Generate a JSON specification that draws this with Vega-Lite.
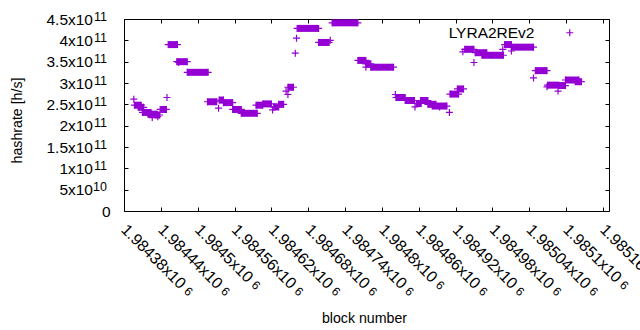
{
  "$schema": "https://vega.github.io/schema/vega-lite/v6.json",
  "width": 485,
  "height": 192,
  "autosize": {"type": "none"},
  "padding": {"left": 124, "top": 19, "right": 31, "bottom": 119},
  "background": "white",
  "config": {
    "view": {"stroke": "black", "strokeWidth": 1},
    "font": "Liberation Sans",
    "axis": {"grid": false, "domain": false, "tickColor": "black", "tickWidth": 1, "tickSize": -4, "labelColor": "black", "titleColor": "black", "labelFontSize": 15.5, "titleFontSize": 14.2, "titleFontWeight": "normal", "labelFlush": false, "labelOverlap": false, "labelBound": false}
  },
  "datasets": {
    "seg": [
      {"b0": 1984397, "b1": 1984408, "h": 2.48e11},
      {"b0": 1984403, "b1": 1984412, "h": 2.43e11},
      {"b0": 1984410, "b1": 1984424, "h": 2.31e11},
      {"b0": 1984419, "b1": 1984434, "h": 2.27e11},
      {"b0": 1984431, "b1": 1984438, "h": 2.25e11},
      {"b0": 1984439, "b1": 1984449, "h": 2.38e11},
      {"b0": 1984452, "b1": 1984467, "h": 3.90e11},
      {"b0": 1984466, "b1": 1984483, "h": 3.50e11},
      {"b0": 1984483, "b1": 1984517, "h": 3.25e11},
      {"b0": 1984516, "b1": 1984531, "h": 2.56e11},
      {"b0": 1984535, "b1": 1984542, "h": 2.60e11},
      {"b0": 1984542, "b1": 1984557, "h": 2.54e11},
      {"b0": 1984557, "b1": 1984571, "h": 2.38e11},
      {"b0": 1984571, "b1": 1984597, "h": 2.29e11},
      {"b0": 1984595, "b1": 1984606, "h": 2.48e11},
      {"b0": 1984606, "b1": 1984620, "h": 2.51e11},
      {"b0": 1984624, "b1": 1984632, "h": 2.44e11},
      {"b0": 1984632, "b1": 1984640, "h": 2.50e11},
      {"b0": 1984647, "b1": 1984656, "h": 2.90e11},
      {"b0": 1984662, "b1": 1984697, "h": 4.28e11},
      {"b0": 1984697, "b1": 1984714, "h": 3.95e11},
      {"b0": 1984719, "b1": 1984761, "h": 4.41e11},
      {"b0": 1984761, "b1": 1984774, "h": 3.53e11},
      {"b0": 1984774, "b1": 1984782, "h": 3.45e11},
      {"b0": 1984782, "b1": 1984819, "h": 3.37e11},
      {"b0": 1984823, "b1": 1984838, "h": 2.66e11},
      {"b0": 1984838, "b1": 1984853, "h": 2.59e11},
      {"b0": 1984856, "b1": 1984864, "h": 2.52e11},
      {"b0": 1984863, "b1": 1984875, "h": 2.59e11},
      {"b0": 1984875, "b1": 1984888, "h": 2.50e11},
      {"b0": 1984882, "b1": 1984906, "h": 2.46e11},
      {"b0": 1984911, "b1": 1984925, "h": 2.74e11},
      {"b0": 1984923, "b1": 1984933, "h": 2.86e11},
      {"b0": 1984935, "b1": 1984950, "h": 3.79e11},
      {"b0": 1984952, "b1": 1984971, "h": 3.71e11},
      {"b0": 1984963, "b1": 1984998, "h": 3.65e11},
      {"b0": 1985000, "b1": 1985011, "h": 3.90e11},
      {"b0": 1985011, "b1": 1985047, "h": 3.84e11},
      {"b0": 1985050, "b1": 1985069, "h": 3.29e11},
      {"b0": 1985070, "b1": 1985088, "h": 2.95e11},
      {"b0": 1985088, "b1": 1985099, "h": 2.94e11},
      {"b0": 1985099, "b1": 1985121, "h": 3.07e11},
      {"b0": 1985115, "b1": 1985125, "h": 3.03e11}
    ],
    "pts": [
      {"b": 1984396, "h": 2.62e11},
      {"b": 1984426, "h": 2.19e11},
      {"b": 1984435, "h": 2.21e11},
      {"b": 1984450, "h": 2.66e11},
      {"b": 1984469, "h": 3.48e11},
      {"b": 1984534, "h": 2.41e11},
      {"b": 1984622, "h": 2.37e11},
      {"b": 1984644, "h": 2.81e11},
      {"b": 1984647, "h": 2.73e11},
      {"b": 1984659, "h": 3.70e11},
      {"b": 1984661, "h": 4.05e11},
      {"b": 1984716, "h": 4.00e11},
      {"b": 1984774, "h": 3.37e11},
      {"b": 1984822, "h": 2.73e11},
      {"b": 1984854, "h": 2.44e11},
      {"b": 1984894, "h": 2.44e11},
      {"b": 1984910, "h": 2.31e11},
      {"b": 1984932, "h": 3.73e11},
      {"b": 1984950, "h": 3.48e11},
      {"b": 1984997, "h": 3.79e11},
      {"b": 1985011, "h": 3.75e11},
      {"b": 1985047, "h": 3.12e11},
      {"b": 1985069, "h": 2.91e11},
      {"b": 1985087, "h": 2.81e11}
    ]
  },
  "layer": [
    {
      "data": {"name": "seg"},
      "mark": {"type": "rule", "strokeWidth": 7, "strokeCap": "butt", "color": "#9400d3"},
      "encoding": {
        "x": {"field": "b0", "type": "quantitative", "scale": {"domain": [1984380, 1985170], "nice": false, "zero": false},
          "axis": {"orient": "bottom", "values": [1984380, 1984440, 1984500, 1984560, 1984620, 1984680, 1984740, 1984800, 1984860, 1984920, 1984980, 1985040, 1985100, 1985160],
            "labelExpr": "format(datum.value/1000000, '.5~f') + 'x10'", "labelFontSize": 16, "labelAngle": 45, "labelAlign": "left", "labelBaseline": "top", "labelPadding": 14, "labelOffset": 5,
            "title": "block number", "titleX": 240, "titleY": 111, "titleAlign": "center", "titleBaseline": "alphabetic"}},
        "x2": {"field": "b1"},
        "y": {"field": "h", "type": "quantitative", "scale": {"domain": [0, 4.5e11], "nice": false},
          "axis": {"orient": "left", "values": [0, 5e10, 1e11, 1.5e11, 2e11, 2.5e11, 3e11, 3.5e11, 4e11, 4.5e11],
            "labelExpr": "datum.value == 0 ? '0' : (datum.value < 1e11 ? format(datum.value/1e10, '~g') + 'x10' : format(datum.value/1e11, '~g') + 'x10')",
            "labelPadding": {"condition": {"test": "datum.value == 0", "value": 18}, "value": 35.5},
            "title": "hashrate [h/s]", "titleX": -100, "titleY": 101, "titleAlign": "center", "titleBaseline": "bottom", "titleAngle": 270}}
      }
    },
    {
      "data": {"name": "seg"},
      "mark": {"type": "point", "shape": "M-1,0H1M0,-1V1", "size": 49, "strokeWidth": 1.2, "filled": false, "color": "#9400d3", "opacity": 1},
      "encoding": {
        "x": {"field": "b0", "type": "quantitative",
          "axis": {"orient": "bottom", "values": [1984380, 1984440, 1984500, 1984560, 1984620, 1984680, 1984740, 1984800, 1984860, 1984920, 1984980, 1985040, 1985100, 1985160],
            "labelExpr": "'6'", "labelFontSize": 12, "labelAngle": 45, "labelAlign": "left", "labelBaseline": "top",
            "labelPadding": {"condition": {"test": "length(format(datum.value/1000000, '.5~f')) == 7", "value": 74.2}, "value": 67.9},
            "labelOffset": {"condition": {"test": "length(format(datum.value/1000000, '.5~f')) == 7", "value": 65.2}, "value": 58.9},
            "ticks": false, "title": null}},
        "y": {"field": "h", "type": "quantitative",
          "axis": {"orient": "left", "values": [0, 5e10, 1e11, 1.5e11, 2e11, 2.5e11, 3e11, 3.5e11, 4e11, 4.5e11],
            "labelExpr": "datum.value == 0 ? '' : (datum.value < 1e11 ? '10' : '11')", "labelFontSize": 12.5, "labelPadding": 17.5, "labelOffset": -3, "ticks": false, "title": null}}
      }
    },
    {
      "data": {"name": "seg"},
      "mark": {"type": "point", "shape": "M-1,0H1M0,-1V1", "size": 49, "strokeWidth": 1.2, "filled": false, "color": "#9400d3", "opacity": 1},
      "encoding": {
        "x": {"field": "b1", "type": "quantitative", "axis": null},
        "y": {"field": "h", "type": "quantitative", "axis": null}
      }
    },
    {
      "data": {"name": "pts"},
      "mark": {"type": "point", "shape": "M-1,0H1M0,-1V1", "size": 49, "strokeWidth": 1.2, "filled": false, "opacity": 1},
      "encoding": {
        "x": {"field": "b", "type": "quantitative",
          "axis": {"orient": "top", "values": [1984380, 1984440, 1984500, 1984560, 1984620, 1984680, 1984740, 1984800, 1984860, 1984920, 1984980, 1985040, 1985100, 1985160], "labels": false, "title": null}},
        "y": {"field": "h", "type": "quantitative",
          "axis": {"orient": "right", "values": [0, 5e10, 1e11, 1.5e11, 2e11, 2.5e11, 3e11, 3.5e11, 4e11, 4.5e11], "labels": false, "title": null}},
        "color": {"datum": "LYRA2REv2", "type": "nominal", "scale": {"range": ["#9400d3"]},
          "legend": {"orient": "none", "legendX": 438, "legendY": 6, "title": null, "padding": 0, "labelFontSize": 15.5, "labelColor": "black", "labelAlign": "right", "labelOffset": -43,
            "symbolType": "M-1,0H1M0,-1V1", "symbolSize": 49, "symbolStrokeWidth": 1.2, "symbolFillColor": "transparent", "symbolStrokeColor": "#9400d3"}}
      }
    }
  ],
  "resolve": {"axis": {"x": "independent", "y": "independent"}}
}
